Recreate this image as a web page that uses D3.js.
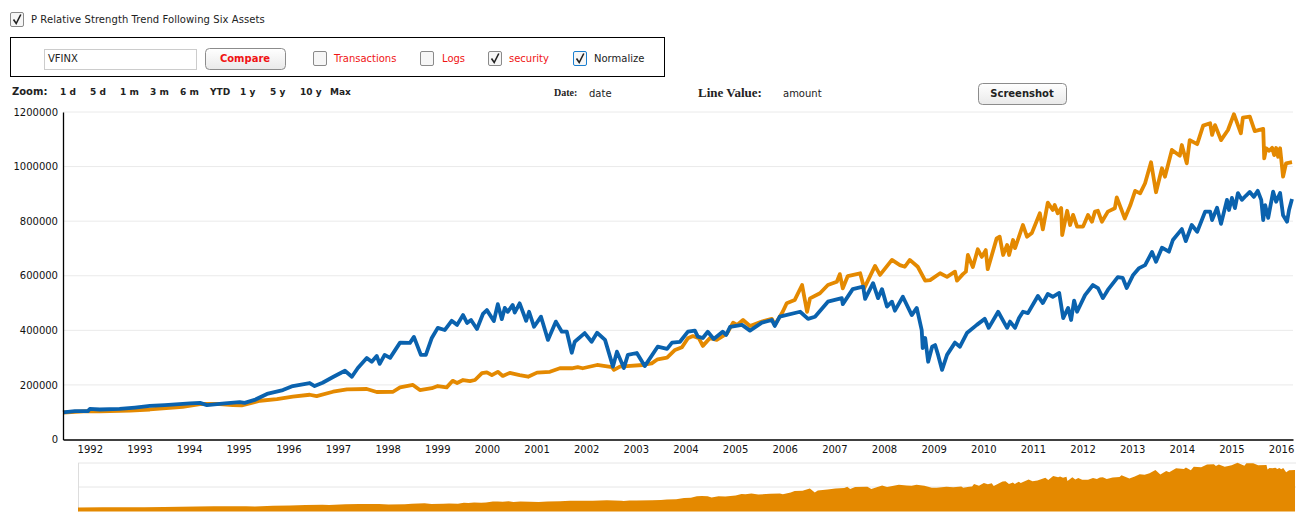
<!DOCTYPE html>
<html>
<head>
<meta charset="utf-8">
<script src="https://cdn.jsdelivr.net/npm/d3@7"></script>
<style>
  html, body { margin: 0; padding: 0; background: #fff; overflow: hidden; }
  svg { display: block; }
  text { font-family: "DejaVu Sans", sans-serif; font-size: 10px; fill: #222; }
  .axis path { stroke: #000; stroke-width: 1.3px; }
  .axis text { fill: #111; }
  .serif { font-family: "Liberation Serif", serif; font-weight: bold; }
</style>
</head>
<body>
<svg id="chart" width="1306" height="520"></svg>
<script>
const title = 'P Relative Strength Trend Following Six Assets'
const zoomLabels = ['1 d', '5 d', '1 m', '3 m', '6 m', 'YTD', '1 y', '5 y', '10 y', 'Max']
const yTicks = [0, 200000, 400000, 600000, 800000, 1000000, 1200000]
const xTicks = d3.range(1992, 2017)

// values in thousands
const blueYears = [1991.46,1991.70,1991.96,1992.00,1992.20,1992.60,1992.91,1993.21,1993.51,1994.02,1994.22,1994.36,1994.72,1995.02,1995.12,1995.32,1995.57,1995.89,1996.09,1996.43,1996.53,1996.69,1996.90,1997.14,1997.28,1997.40,1997.58,1997.68,1997.78,1997.84,1997.94,1998.05,1998.25,1998.45,1998.53,1998.67,1998.77,1998.89,1999.01,1999.15,1999.29,1999.40,1999.52,1999.60,1999.68,1999.80,1999.92,2000.00,2000.14,2000.22,2000.30,2000.36,2000.42,2000.52,2000.56,2000.66,2000.79,2000.85,2000.95,2001.09,2001.23,2001.39,2001.51,2001.61,2001.71,2001.77,2001.97,2002.11,2002.22,2002.38,2002.54,2002.62,2002.76,2002.84,2003.02,2003.18,2003.44,2003.63,2003.73,2003.89,2004.05,2004.19,2004.25,2004.35,2004.45,2004.57,2004.75,2004.82,2004.90,2005.14,2005.30,2005.54,2005.74,2005.80,2005.90,2006.31,2006.47,2006.61,2006.87,2007.15,2007.17,2007.37,2007.58,2007.62,2007.78,2007.88,2007.96,2008.06,2008.16,2008.22,2008.38,2008.56,2008.66,2008.76,2008.78,2008.83,2008.89,2008.97,2009.03,2009.09,2009.17,2009.27,2009.43,2009.53,2009.67,2009.87,2010.03,2010.11,2010.30,2010.48,2010.54,2010.64,2010.72,2010.80,2010.90,2011.10,2011.20,2011.30,2011.40,2011.53,2011.61,2011.71,2011.77,2011.83,2011.89,2012.05,2012.21,2012.31,2012.41,2012.51,2012.71,2012.81,2012.89,2013.02,2013.14,2013.26,2013.40,2013.48,2013.60,2013.74,2013.82,2014.00,2014.08,2014.20,2014.31,2014.47,2014.57,2014.61,2014.71,2014.79,2014.91,2014.95,2015.01,2015.07,2015.13,2015.21,2015.29,2015.37,2015.45,2015.53,2015.60,2015.64,2015.68,2015.74,2015.84,2015.90,2015.98,2016.04,2016.12,2016.16,2016.22]
const blueValues = [99,104,104,112,110,112,117,123,126,132,134,126,132,137,134,145,167,181,196,207,196,208,229,252,230,262,299,285,306,277,310,299,355,354,376,310,310,372,409,401,435,420,456,427,438,405,460,474,434,496,441,482,468,493,465,499,435,468,413,450,365,432,395,395,318,358,390,358,391,365,267,322,262,310,317,269,340,332,355,358,395,399,377,372,395,368,395,383,413,420,399,428,438,416,450,468,442,450,505,518,496,551,560,515,573,518,551,487,505,472,523,456,482,401,335,372,285,340,346,310,255,310,355,340,390,420,442,409,468,409,432,409,445,468,463,526,500,533,523,537,445,482,438,509,468,529,566,555,518,548,595,592,555,603,628,639,687,651,703,688,731,771,727,786,761,835,835,804,849,790,878,841,885,848,903,878,893,907,889,911,878,804,859,812,908,871,903,822,798,841,881]

const orangeYears = [1991.46,1991.96,1992.20,1992.81,1993.21,1993.87,1994.22,1994.62,1994.88,1995.06,1995.43,1995.77,1996.09,1996.43,1996.57,1996.90,1997.18,1997.58,1997.78,1998.11,1998.25,1998.51,1998.65,1998.89,1999.01,1999.19,1999.31,1999.40,1999.52,1999.66,1999.76,1999.90,2000.00,2000.10,2000.22,2000.32,2000.46,2000.66,2000.83,2001.01,2001.27,2001.47,2001.71,2001.83,2001.93,2002.22,2002.52,2002.56,2002.68,2002.82,2003.14,2003.32,2003.44,2003.63,2003.79,2003.93,2004.05,2004.15,2004.27,2004.35,2004.49,2004.63,2004.84,2004.96,2005.04,2005.16,2005.30,2005.54,2005.74,2005.80,2005.96,2006.04,2006.20,2006.35,2006.45,2006.51,2006.71,2006.87,2007.05,2007.11,2007.17,2007.27,2007.52,2007.60,2007.82,2007.92,2008.16,2008.32,2008.42,2008.52,2008.68,2008.83,2008.93,2009.13,2009.27,2009.43,2009.47,2009.59,2009.65,2009.69,2009.79,2009.89,2009.97,2010.05,2010.09,2010.27,2010.33,2010.40,2010.48,2010.52,2010.60,2010.64,2010.80,2010.88,2010.98,2011.14,2011.20,2011.30,2011.40,2011.44,2011.50,2011.57,2011.59,2011.69,2011.75,2011.81,2011.89,2012.01,2012.11,2012.19,2012.25,2012.31,2012.39,2012.51,2012.65,2012.69,2012.85,2012.96,2013.06,2013.16,2013.26,2013.38,2013.48,2013.60,2013.66,2013.80,2013.96,2014.00,2014.10,2014.16,2014.31,2014.43,2014.57,2014.61,2014.67,2014.79,2014.93,2015.05,2015.19,2015.23,2015.37,2015.47,2015.64,2015.66,2015.70,2015.76,2015.82,2015.86,2015.90,2015.94,2015.98,2016.04,2016.10,2016.22]
const orangeValues = [99,104,103,106,110,120,130,130,126,125,142,148,157,164,159,175,184,185,174,175,191,200,181,188,196,191,215,207,218,214,218,243,246,236,248,233,244,236,230,245,248,261,261,265,261,273,265,255,267,269,273,279,294,300,328,338,371,379,371,343,371,365,389,428,420,438,416,432,442,420,468,499,511,566,468,517,536,566,578,606,554,599,609,554,636,603,658,639,633,658,633,582,584,609,596,615,582,606,615,676,632,697,669,694,624,737,743,676,713,676,731,701,786,743,757,829,770,868,841,859,829,848,749,838,786,823,780,780,823,798,835,838,798,835,847,887,810,857,911,902,939,1016,906,994,963,1061,1040,1079,1012,1097,1082,1150,1159,1116,1152,1097,1134,1192,1122,1179,1183,1130,1138,1030,1067,1058,1069,1042,1068,1036,1067,963,1012,1016]

const BLUE = '#0a62ae'
const ORANGE = '#e48900'
const RED = '#f01414'

const svg = d3.select('#chart')

// --- main plot ---
const x = d3.scaleLinear().domain([1991.46, 2016.24]).range([63, 1293])
const y = d3.scaleLinear().domain([0, 1200000]).range([439.5, 112])

svg.append('g').selectAll('line').data(yTicks.slice(1)).join('line')
  .attr('x1', 63).attr('x2', 1293)
  .attr('y1', d => y(d)).attr('y2', d => y(d))
  .attr('stroke', '#eaeaea')

const line = d3.line().x(d => x(d[0])).y(d => y(d[1] * 1000)).curve(d3.curveLinear)

svg.append('path')
  .datum(d3.zip(orangeYears, orangeValues))
  .attr('d', line).attr('fill', 'none')
  .attr('stroke', ORANGE).attr('stroke-width', 3.8).attr('stroke-linejoin', 'round')
svg.append('path')
  .datum(d3.zip(blueYears, blueValues))
  .attr('d', line).attr('fill', 'none')
  .attr('stroke', BLUE).attr('stroke-width', 3.8).attr('stroke-linejoin', 'round')

const yAxis = d3.axisLeft(y).tickValues(yTicks).tickFormat(d3.format('d')).tickSize(0).tickPadding(5)
svg.append('g').attr('class', 'axis').attr('transform', 'translate(63,0)').call(yAxis)
const xAxis = d3.axisBottom(x).tickValues(xTicks).tickFormat(d3.format('d')).tickSize(0).tickPadding(6)
svg.append('g').attr('class', 'axis').attr('transform', 'translate(0,439.5)').call(xAxis)

// --- overview ---
const x2 = d3.scaleLinear().domain([1991.46, 2016.24]).range([78, 1296])
const y2 = d3.scaleLinear().domain([0, 1200000]).range([511.5, 462.5])

svg.append('line').attr('x1', 78).attr('x2', 1296).attr('y1', 463).attr('y2', 463).attr('stroke', '#e6e6e6')
svg.append('line').attr('x1', 78).attr('x2', 1296).attr('y1', y2(600000)).attr('y2', y2(600000)).attr('stroke', '#e6e6e6')
svg.append('line').attr('x1', 78.5).attr('x2', 78.5).attr('y1', 463).attr('y2', 511.5).attr('stroke', '#ddd')

const area = d3.area().x(d => x2(d[0])).y0(511.5).y1(d => y2(d[1] * 1000))
svg.append('path').datum(d3.zip(orangeYears, orangeValues)).attr('d', area).attr('fill', ORANGE)

// --- controls ---
function checkbox(cx, cy, checked, focus) {
  const g = svg.append('g').attr('transform', `translate(${cx},${cy})`)
  g.append('rect').attr('x', 0.5).attr('y', 0.5).attr('width', 13).attr('height', 14).attr('rx', 1.5)
    .attr('fill', '#f6f6f6').attr('stroke', focus ? '#1a7fd0' : '#8a8a8a')
  if (checked) {
    g.append('path').attr('d', 'M3.5 7.5 L6.2 11.5 L10.8 2.5').attr('fill', 'none')
      .attr('stroke', '#222').attr('stroke-width', 1.6)
  }
}

function button(bx, by, w, h, label, color) {
  svg.append('rect').attr('x', bx + 0.5).attr('y', by + 0.5).attr('width', w).attr('height', h).attr('rx', 4)
    .attr('fill', 'url(#btn)').attr('stroke', '#8c8c8c')
  svg.append('text').attr('x', bx + w / 2).attr('y', by + h / 2 + 3).attr('text-anchor', 'middle')
    .attr('font-weight', 'bold').style('font-size', '10px').style('fill', color).text(label)
}

const grad = svg.append('defs').append('linearGradient').attr('id', 'btn').attr('x2', 0).attr('y2', 1)
grad.append('stop').attr('offset', 0).attr('stop-color', '#ffffff')
grad.append('stop').attr('offset', 1).attr('stop-color', '#e9e9e9')

checkbox(10, 12, true)
svg.append('text').attr('x', 31).attr('y', 23).style('letter-spacing', '0.07px').text(title)

svg.append('rect').attr('x', 10.5).attr('y', 37.5).attr('width', 654).attr('height', 39)
  .attr('fill', 'none').attr('stroke', '#000')
svg.append('rect').attr('x', 44.5).attr('y', 49.5).attr('width', 152).attr('height', 20)
  .attr('fill', '#fff').attr('stroke', '#ccc')
svg.append('text').attr('x', 48).attr('y', 62).text('VFINX')
button(205, 48, 80, 21, 'Compare', RED)

checkbox(313, 51, false)
svg.append('text').attr('x', 334).attr('y', 62).style('fill', RED).text('Transactions')
checkbox(420, 51, false)
svg.append('text').attr('x', 442).attr('y', 62).style('fill', RED).text('Logs')
checkbox(488, 51, true)
svg.append('text').attr('x', 509).attr('y', 62).style('fill', RED).text('security')
checkbox(573, 51, true, true)
svg.append('text').attr('x', 594).attr('y', 62).text('Normalize')

svg.append('text').attr('x', 12).attr('y', 95).attr('font-weight', 'bold').style('font-size', '10px').text('Zoom:')
const zoomLeft = [60, 90, 120, 150, 180, 210, 240, 270, 300, 330]
svg.append('g').selectAll('text').data(zoomLabels).join('text')
  .attr('x', (d, i) => zoomLeft[i]).attr('y', 95)
  .attr('font-weight', 'bold').style('font-size', '9px').text(d => d)

svg.append('text').attr('class', 'serif').attr('x', 554).attr('y', 96).style('font-size', '10px').text('Date:')
svg.append('text').attr('x', 589).attr('y', 97).text('date')
svg.append('text').attr('class', 'serif').attr('x', 698).attr('y', 97).style('font-size', '13px').text('Line Value:')
svg.append('text').attr('x', 783).attr('y', 97).text('amount')
button(978, 83, 88, 21, 'Screenshot', '#222')
</script>
</body>
</html>
